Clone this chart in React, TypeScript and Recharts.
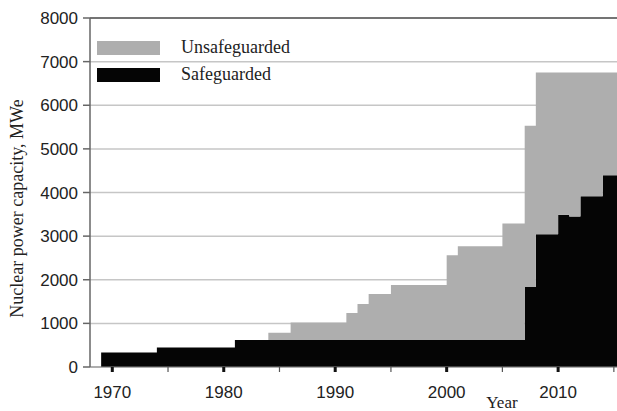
import React from 'react';
import {
    AreaChart,
    Area,
    XAxis,
    YAxis,
    CartesianGrid,
    Legend,
    ReferenceLine
} from 'recharts';

// step change points (year a step starts), values in MWe
const years = [1969, 1974, 1981, 1984, 1986, 1991, 1992, 1993, 1995, 2000, 2001, 2005, 2007, 2008, 2010, 2011, 2012, 2014, 2016];
const safeguarded = [330, 445, 620, 620, 620, 620, 620, 620, 620, 620, 620, 620, 1835, 3044, 3490, 3450, 3915, 4397, 4397];
const unsafeguarded = [0, 0, 0, 165, 398, 615, 825, 1055, 1262, 1942, 2150, 2672, 3693, 3708, 3262, 3302, 2837, 2355, 2355];

const yTicks = [0, 1000, 2000, 3000, 4000, 5000, 6000, 7000, 8000];
const xTicks = [1970, 1975, 1980, 1985, 1990, 1995, 2000, 2005, 2010, 2015];

const data = years.map((year, i) => ({
    year,
    safeguarded: safeguarded[i],
    unsafeguarded: unsafeguarded[i]
}));

const GRAY = '#aeaeae';
const BLACK = '#050505';
const SANS = '"Liberation Sans", Arial, sans-serif';
const SERIF = '"Liberation Serif", "Times New Roman", serif';

function YearTick(props: any) {
    const { x, y, payload } = props;
    const major = payload.value % 10 === 0;
    return (
        <g>
            {major ? (
                <rect x={x - 1.5} y={y} width={3} height={5} fill="#111" />
            ) : (
                <line x1={x} x2={x} y1={y} y2={y + 5} stroke="#555" strokeWidth={1.2} />
            )}
            {major && (
                <text x={x} y={y + 25} textAnchor="middle" dominantBaseline="central"
                    fontFamily={SANS} fontSize={17} fill="#222">
                    {payload.value}
                </text>
            )}
        </g>
    );
}

function YTitle(props: any) {
    const { x, y, height } = props.viewBox;
    const cx = x + 17;
    const cy = y + height / 2 + 16;
    return (
        <text x={cx} y={cy} transform={`rotate(-90 ${cx} ${cy})`} textAnchor="middle"
            dominantBaseline="central" fontFamily={SERIF} fontSize={18} fill="#222">
            Nuclear power capacity, MWe
        </text>
    );
}

function XTitle(props: any) {
    const { x, y, width } = props.viewBox;
    return (
        <text x={x + width * 0.77} y={y + 35} textAnchor="middle" dominantBaseline="central"
            fontFamily={SERIF} fontSize={17} fill="#222">
            Year
        </text>
    );
}

function renderLegend(props: any) {
    const items = [...(props.payload || [])].reverse();
    return (
        <div>
            {items.map((item: any) => (
                <div key={item.value} style={{ display: 'flex', alignItems: 'center', height: 27 }}>
                    <div style={{ width: 63, height: 14, background: item.color }} />
                    <span style={{ marginLeft: 21, fontFamily: SERIF, fontSize: 18, color: '#222' }}>
                        {item.value}
                    </span>
                </div>
            ))}
        </div>
    );
}

export default function App() {
    return (
        <div style={{ position: 'absolute', left: 0, top: 0, width: 617, height: 411, overflow: 'hidden', background: '#fff' }}>
            <AreaChart width={625} height={411} data={data}
                margin={{ top: 18, right: 0, bottom: 0, left: 0 }}>
                <CartesianGrid vertical={false} stroke="#c6c6c6" strokeWidth={1.5} />
                <ReferenceLine y={8000} stroke="#555" strokeWidth={1.5} />
                <XAxis dataKey="year" type="number" domain={[1968, 2016]} ticks={xTicks}
                    allowDataOverflow interval={0} height={44} tickSize={0} tickMargin={0}
                    tickLine={false} tick={<YearTick />} stroke="#888" label={<XTitle />} />
                <YAxis domain={[0, 8000]} ticks={yTicks} width={90} interval={0}
                    stroke="#666" strokeWidth={1.5} tickSize={7} tickMargin={5}
                    tick={{ fontFamily: SANS, fontSize: 17, fill: '#222' }}
                    label={<YTitle />} />
                <Legend content={renderLegend} layout="horizontal" verticalAlign="middle" align="center"
                    wrapperStyle={{ position: 'absolute', left: 97, top: 34, width: 'auto' }} />
                <Area type="stepAfter" dataKey="safeguarded" name="Safeguarded" stackId="1"
                    fill={BLACK} stroke="none" fillOpacity={1} isAnimationActive={false}
                    dot={false} activeDot={false} />
                <Area type="stepAfter" dataKey="unsafeguarded" name="Unsafeguarded" stackId="1"
                    fill={GRAY} stroke="none" fillOpacity={1} isAnimationActive={false}
                    dot={false} activeDot={false} />
            </AreaChart>
        </div>
    );
}
